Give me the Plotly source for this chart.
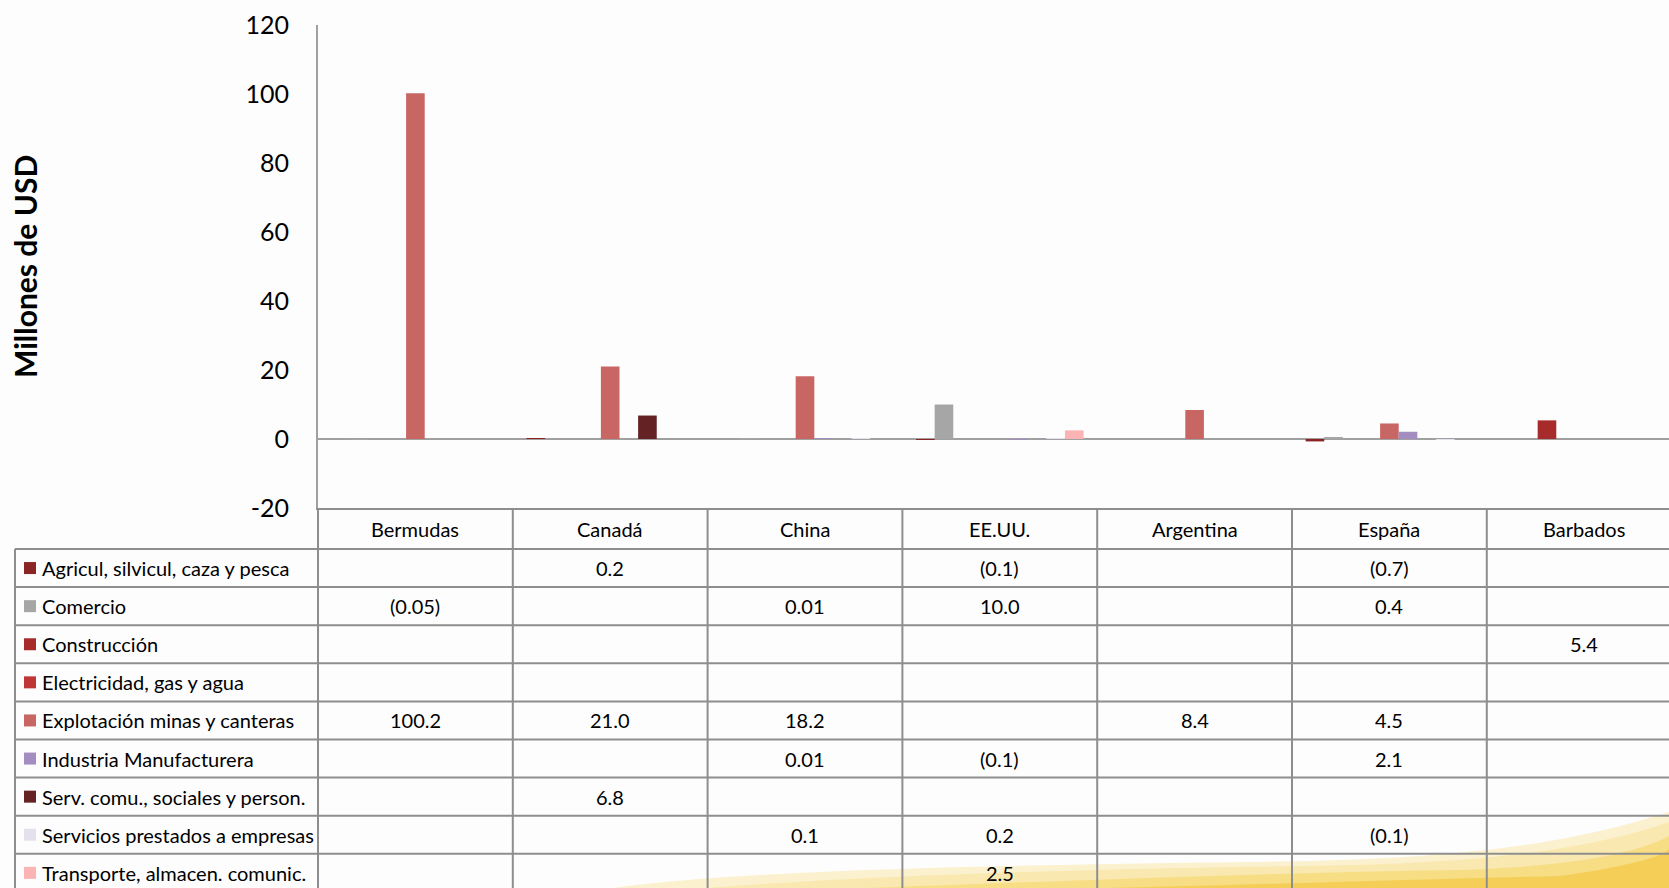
import plotly.graph_objects as go

countries = ["Bermudas", "Canadá", "China", "EE.UU.", "Argentina", "España", "Barbados"]
series_names = [
    "Agricul, silvicul, caza y pesca",
    "Comercio",
    "Construcción",
    "Electricidad, gas y agua",
    "Explotación minas y canteras",
    "Industria Manufacturera",
    "Serv. comu., sociales y person.",
    "Servicios prestados a empresas",
    "Transporte, almacen. comunic.",
]
agricul = [None, 0.2, None, -0.1, None, -0.7, None]
comercio = [-0.05, None, 0.01, 10.0, None, 0.4, None]
construccion = [None, None, None, None, None, None, 5.4]
electricidad = [None, None, None, None, None, None, None]
explotacion = [100.2, 21.0, 18.2, None, 8.4, 4.5, None]
industria = [None, None, 0.01, -0.1, None, 2.1, None]
serv_comu = [None, 6.8, None, None, None, None, None]
servicios_empresas = [None, None, 0.1, 0.2, None, -0.1, None]
transporte = [None, None, None, 2.5, None, None, None]
series_values = [agricul, comercio, construccion, electricidad, explotacion,
                 industria, serv_comu, servicios_empresas, transporte]
colors = ["#8b2424", "#a6a6a6", "#a82b2b", "#bf3636", "#c86664",
          "#a38dc0", "#652224", "#e5e0ee", "#fcb3b3"]
ytick_vals = [-20, 0, 20, 40, 60, 80, 100, 120]
ytick_text = ["-20", "0", "20", "40", "60", "80", "100", "120"]

W, H = 1669, 888
ML, MR, MT, MB = 318, 0, 25, 380
PW, PH = W - ML - MR, H - MT - MB
XMIN = -0.5
CAT_PX = 194.8
XMAX = XMIN + PW / CAT_PX
FONT = "Lato"


def px_x(x):
    return (x - ML) / PW


def px_y(y):
    return (H - MB - y) / PH


def cat_to_paper(v):
    return (v - XMIN) / (XMAX - XMIN)


def fmt(v):
    if v is None:
        return ""
    s = f"{abs(v):.2f}" if abs(v) < 0.095 else f"{abs(v):.1f}"
    return f"({s})" if v < 0 else s


fig = go.Figure()
for name, vals, col in zip(series_names, series_values, colors):
    fig.add_trace(go.Bar(x=list(range(len(countries))), y=vals, name=name,
                         marker=dict(color=col, line=dict(width=0)),
                         showlegend=False, hoverinfo="skip"))

shapes = []
annotations = []
LINE = dict(color="#8e8e8e", width=2)

# decorative yellow swoosh (background), built up in soft layers
swoosh_layers = [
    ((600, 700, 900, 1250, 1480, 1580), (874, 866, 862, 860, 840, 812), "#fbf1cf", 1.0),
    ((680, 800, 1000, 1300, 1500, 1600), (880, 870, 866, 864, 846, 822), "#f9e6a6", 0.8),
    ((800, 950, 1200, 1460, 1580, 1640), (886, 874, 870, 866, 852, 836), "#f6d970", 0.7),
    ((1000, 1150, 1400, 1560, 1620, 1669), (888, 880, 876, 868, 856, 848), "#f1c53a", 0.6),
]
for xs, ys, c, o in swoosh_layers:
    p = (f"M {px_x(xs[0])},{px_y(890)} "
         f"C {px_x(xs[1])},{px_y(ys[0])} {px_x(xs[2])},{px_y(ys[1])} {px_x(xs[3])},{px_y(ys[2])} "
         f"C {px_x(xs[4])},{px_y(ys[3])} {px_x(xs[5])},{px_y(ys[4])} {px_x(1669)},{px_y(ys[5])} "
         f"L {px_x(1669)},{px_y(890)} Z")
    shapes.append(dict(type="path", path=p, xref="paper", yref="paper",
                       fillcolor=c, opacity=o, line=dict(width=0), layer="below"))

# table geometry
ROW0 = 549
ROWH = 38.1
nrows = len(series_names)
TBL_LEFT = 15
for k in range(nrows + 1):
    y = ROW0 + k * ROWH
    if y > H:
        break
    shapes.append(dict(type="line", xref="paper", yref="paper",
                       x0=px_x(TBL_LEFT), x1=1, y0=px_y(y), y1=px_y(y), line=LINE))
shapes.append(dict(type="line", xref="paper", yref="paper",
                   x0=px_x(TBL_LEFT), x1=px_x(TBL_LEFT), y0=px_y(ROW0), y1=px_y(H + 5), line=LINE))
for i in range(len(countries) + 1):
    xv = cat_to_paper(i - 0.5)
    if xv > 1:
        break
    shapes.append(dict(type="line", xref="paper", yref="paper",
                       x0=xv, x1=xv, y0=0, y1=px_y(H + 5), line=LINE))

TXT = dict(family=FONT, size=20, color="#000000")
for i, c in enumerate(countries):
    annotations.append(dict(x=i, xref="x", y=px_y(529), yref="paper", text=c,
                            showarrow=False, xanchor="center", yanchor="middle", font=TXT))

for k, (name, vals, col) in enumerate(zip(series_names, series_values, colors)):
    yc = ROW0 + ROWH * (k + 0.5)
    shapes.append(dict(type="rect", xref="paper", yref="paper",
                       x0=px_x(24), x1=px_x(36), y0=px_y(yc - 6), y1=px_y(yc + 6),
                       fillcolor=col, line=dict(width=0)))
    annotations.append(dict(x=px_x(40), xref="paper", y=px_y(yc), yref="paper", text=name,
                            showarrow=False, xanchor="left", yanchor="middle", font=TXT))
    for i, v in enumerate(vals):
        if v is None:
            continue
        annotations.append(dict(x=i, xref="x", y=px_y(yc), yref="paper", text=fmt(v),
                                showarrow=False, xanchor="center", yanchor="middle", font=TXT))

annotations.append(dict(x=px_x(25), xref="paper", y=px_y(267), yref="paper",
                        text="<b>Millones de USD</b>", textangle=-90, showarrow=False,
                        xanchor="center", yanchor="middle",
                        font=dict(family=FONT, size=30, color="#000000")))

fig.update_layout(
    width=W, height=H,
    margin=dict(l=ML, r=MR, t=MT, b=MB, pad=0),
    paper_bgcolor="#fdfdfd", plot_bgcolor="#fdfdfd",
    barmode="group", bargap=0.14, bargroupgap=0.0,
    showlegend=False,
    shapes=shapes, annotations=annotations,
    font=dict(family=FONT, color="#000000"),
    xaxis=dict(range=[XMIN, XMAX], showticklabels=False, showgrid=False,
               zeroline=False, showline=True, linecolor="#8e8e8e", linewidth=2,
               ticks="", fixedrange=True),
    yaxis=dict(range=[-20, 120], tickvals=ytick_vals, ticktext=ytick_text,
               showgrid=False, zeroline=True, zerolinecolor="#a0a0a0", zerolinewidth=2,
               showline=True, linecolor="#a0a0a0", linewidth=2, ticks="",
               ticklabelstandoff=22, layer="above traces", fixedrange=True,
               tickfont=dict(family=FONT, size=25, color="#000000")),
)

fig.write_html("out.html", config={"displayModeBar": False},
               post_script="document.body.style.margin='0';document.body.style.overflow='hidden';")
